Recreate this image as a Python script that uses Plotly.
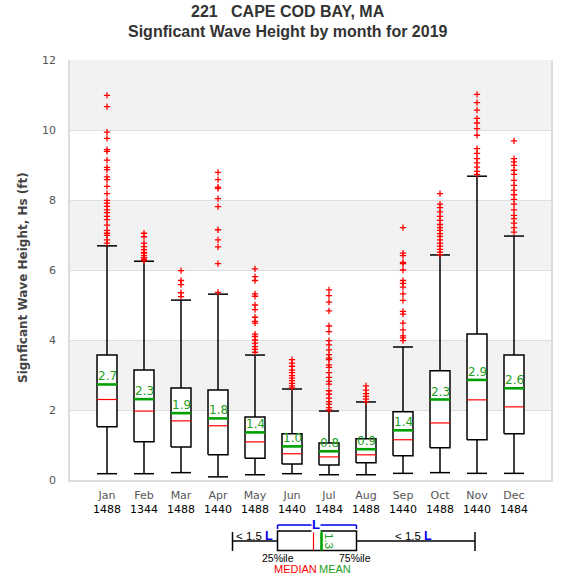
import plotly.graph_objects as go

# ---------------- data ----------------
months = ["Jan", "Feb", "Mar", "Apr", "May", "Jun", "Jul", "Aug", "Sep", "Oct", "Nov", "Dec"]
counts = [1488, 1344, 1488, 1440, 1488, 1440, 1484, 1488, 1440, 1488, 1440, 1484]
whisk_lo = [0.18, 0.18, 0.21, 0.09, 0.15, 0.18, 0.15, 0.15, 0.19, 0.21, 0.19, 0.19]
q1 = [1.52, 1.09, 0.94, 0.72, 0.62, 0.46, 0.43, 0.49, 0.69, 0.92, 1.15, 1.32]
median = [2.30, 1.97, 1.69, 1.55, 1.09, 0.75, 0.66, 0.72, 1.15, 1.63, 2.29, 2.09]
mean = [2.73, 2.31, 1.91, 1.76, 1.36, 0.96, 0.82, 0.88, 1.42, 2.30, 2.86, 2.62]
q3 = [3.57, 3.14, 2.63, 2.57, 1.80, 1.32, 1.06, 1.18, 1.95, 3.12, 4.17, 3.57]
whisk_hi = [6.69, 6.25, 5.14, 5.31, 3.57, 2.60, 1.97, 2.23, 3.80, 6.43, 8.68, 6.97]

out_jan = [10.99, 10.67, 9.94, 9.76, 9.44, 9.39, 9.14, 8.93, 8.87, 8.66, 8.58, 8.39, 8.18, 7.99,
           7.91, 7.82, 7.72, 7.64, 7.53, 7.44, 7.28, 7.13, 7.05, 6.99, 6.86, 6.77]
out_feb = [7.05, 6.95, 6.77, 6.67, 6.58, 6.50, 6.48, 6.41, 6.35, 6.30, 6.27]
out_mar = [5.98, 5.70, 5.58, 5.35, 5.24]
out_apr = [8.79, 8.58, 8.37, 8.33, 8.04, 7.81, 7.15, 6.86, 6.66, 6.18, 5.36]
out_may = [6.03, 5.81, 5.70, 5.32, 5.25, 5.00, 4.87, 4.65, 4.53, 4.48, 4.17, 4.10, 4.00,
           3.91, 3.81, 3.73, 3.65]
out_jun = [3.44, 3.34, 3.25, 3.14, 3.07, 2.98, 2.91, 2.84, 2.76, 2.69, 2.63]
out_jul = [5.43, 5.27, 5.08, 4.83, 4.40, 4.24, 3.98, 3.86, 3.72, 3.58, 3.48, 3.44, 3.29,
           3.22, 3.07, 2.93, 2.82, 2.74, 2.55, 2.45, 2.34, 2.24, 2.17, 2.07, 2.00]
out_aug = [2.69, 2.57, 2.47, 2.39, 2.31, 2.24]
out_sep = [7.21, 6.48, 6.41, 6.22, 6.18, 6.00, 5.70, 5.62, 5.51, 5.32, 5.13, 4.82, 4.74,
           4.48, 4.29, 4.12, 4.06, 3.98]
out_oct = [8.18, 7.88, 7.78, 7.66, 7.53, 7.42, 7.30, 7.21, 7.13, 7.04, 6.96, 6.86, 6.77,
           6.68, 6.59, 6.51, 6.44]
out_nov = [11.02, 10.78, 10.57, 10.33, 10.20, 10.04, 9.85, 9.47, 9.33, 9.18, 9.06, 8.94,
           8.82, 8.73]
out_dec = [9.69, 9.18, 9.09, 8.99, 8.85, 8.73, 8.56, 8.42, 8.28, 8.15, 8.02, 7.88, 7.72,
           7.56, 7.47, 7.34, 7.21, 7.08]
outliers = [out_jan, out_feb, out_mar, out_apr, out_may, out_jun, out_jul, out_aug,
            out_sep, out_oct, out_nov, out_dec]

y_ticks = [0, 2, 4, 6, 8, 10, 12]
shaded_bands = [(2, 4), (6, 8), (10, 12)]
legend_mean_label = "1.3"
title_line1 = "221\u00a0\u00a0\u00a0CAPE COD BAY, MA"
title_line2 = "Signficant Wave Height by month for 2019"
y_title = "Signficant Wave Height, Hs (ft)"

# ---------------- styling ----------------
HW = 0.27  # half box width (data units)
GREEN_LINE = "#00a000"
GREEN_TXT = "#22a022"
RED = "#ff0000"
BLUE = "#0000ee"
TICK_FONT = "DejaVu Sans"
ARIAL = "Liberation Sans, Arial"

xs = list(range(len(months)))

wx, wy = [], []
for i in xs:
    wx += [i, i, None, i, i, None, i - HW, i + HW, None, i - HW, i + HW, None]
    wy += [whisk_lo[i], q1[i], None, q3[i], whisk_hi[i], None,
           whisk_lo[i], whisk_lo[i], None, whisk_hi[i], whisk_hi[i], None]

bx, by = [], []
for i in xs:
    bx += [i - HW, i + HW, i + HW, i - HW, i - HW, None]
    by += [q1[i], q1[i], q3[i], q3[i], q1[i], None]

mx, my, ax_, ay_ = [], [], [], []
for i in xs:
    mx += [i - HW, i + HW, None]
    my += [median[i], median[i], None]
    ax_ += [i - HW, i + HW, None]
    ay_ += [mean[i], mean[i], None]

ox, oy = [], []
for i, lst in enumerate(outliers):
    ox += [i] * len(lst)
    oy += lst

fig = go.Figure()
fig.add_trace(go.Scatter(x=wx, y=wy, mode="lines", line=dict(color="black", width=1.5),
                         hoverinfo="skip", showlegend=False))
fig.add_trace(go.Scatter(x=bx, y=by, mode="lines", fill="toself", fillcolor="white",
                         line=dict(color="black", width=1.5), hoverinfo="skip", showlegend=False))
fig.add_trace(go.Scatter(x=mx, y=my, mode="lines", line=dict(color=RED, width=1.2),
                         hoverinfo="skip", showlegend=False))
fig.add_trace(go.Scatter(x=ax_, y=ay_, mode="lines", line=dict(color=GREEN_LINE, width=2.6),
                         hoverinfo="skip", showlegend=False))
fig.add_trace(go.Scatter(x=ox, y=oy, mode="markers",
                         marker=dict(symbol="cross-thin", size=4.5, color=RED,
                                     line=dict(color=RED, width=1.3)),
                         hoverinfo="skip", showlegend=False))

annotations = []
for i in xs:
    annotations.append(dict(x=i, y=mean[i], xref="x", yref="y", text=f"{mean[i]:.1f}",
                             showarrow=False, yanchor="bottom", yshift=-1,
                             font=dict(family=TICK_FONT, size=12, color=GREEN_TXT)))

shapes = []
for lo, hi in shaded_bands:
    shapes.append(dict(type="rect", xref="paper", yref="y", x0=0, x1=1, y0=lo, y1=hi,
                       fillcolor="#f2f2f2", line=dict(width=0), layer="below"))

# ---------------- legend schematic (pixel layout -> paper) ----------------
L_, R_, T_, B_ = 70, 551, 60, 480


def px(x):
    return (x - L_) / (R_ - L_)


def py(y):
    return (B_ - y) / (B_ - T_)


def seg(x0, y0, x1, y1, color="black", width=1.5):
    shapes.append(dict(type="line", xref="paper", yref="paper", x0=px(x0), y0=py(y0),
                       x1=px(x1), y1=py(y1), line=dict(color=color, width=width)))


seg(232.5, 532, 232.5, 551)
seg(232.5, 541, 277.5, 541)
shapes.append(dict(type="rect", xref="paper", yref="paper", x0=px(277.5), x1=px(356.5),
                   y0=py(550.5), y1=py(531), line=dict(color="black", width=1.5),
                   fillcolor="white"))
seg(313.5, 531, 313.5, 550.5, RED, 1.2)
seg(321.5, 531, 321.5, 550.5, GREEN_LINE, 2.6)
seg(356.5, 541, 475, 541)
seg(475, 532, 475, 551)
seg(277.5, 525, 356.5, 525, BLUE, 1.5)
seg(277.5, 525, 277.5, 529, BLUE, 1.5)
seg(356.5, 525, 356.5, 529, BLUE, 1.5)


def lab(x, y, text, color="black", size=10.5, angle=0, bg=None, family=ARIAL):
    d = dict(x=px(x), y=py(y), xref="paper", yref="paper", text=text, showarrow=False,
             xanchor="center", yanchor="middle", textangle=angle,
             font=dict(family=family, size=size, color=color))
    if bg:
        d["bgcolor"] = bg
        d["borderpad"] = 0
    annotations.append(d)


blueL = f"<span style='color:{BLUE};font-size:12.5px'><b>L</b></span>"
lab(316, 524, "<b>L</b>", BLUE, 13, bg="white")
lab(254, 536, "&lt; 1.5 " + blueL, size=11.5)
lab(413.5, 536, "&lt; 1.5 " + blueL, size=11.5)
lab(278, 558, "25%ile", size=10.5)
lab(355, 558, "75%ile", size=10.5)
lab(295, 569, "MEDIAN", RED, size=11)
lab(335, 569, "MEAN", GREEN_TXT, size=11)
lab(329, 541, legend_mean_label, GREEN_TXT, 11.5, angle=90)

lab(287.5, 12, f"<b>{title_line1}</b>", "#333333", 16)
lab(287.5, 31, f"<b>{title_line2}</b>", "#333333", 16)
lab(23, 278, f"<b>{y_title}</b>", "#444444", 12, angle=-90, family=TICK_FONT)

ticktext = [f"{m}<br><span style='color:black'>{c}</span>" for m, c in zip(months, counts)]

fig.update_layout(
    width=575, height=580,
    margin=dict(l=L_, r=575 - R_, t=T_, b=580 - B_, autoexpand=False),
    paper_bgcolor="white", plot_bgcolor="white",
    xaxis=dict(range=[-1, 12], tickvals=xs, ticktext=ticktext, showgrid=False,
               zeroline=False, showline=True, linecolor="#dcdcdc", linewidth=1.5,
               ticks="outside", ticklen=4, tickcolor="rgba(0,0,0,0)", automargin=False,
               tickfont=dict(family=TICK_FONT, size=11, color="#555555"), fixedrange=True),
    yaxis=dict(range=[0, 12], tickvals=y_ticks, showgrid=True, gridcolor="#dedede",
               gridwidth=1, zeroline=False, showline=True, mirror=True, linecolor="#dcdcdc",
               linewidth=1.5, ticks="outside", ticklen=10, tickcolor="rgba(0,0,0,0)",
               automargin=False,
               tickfont=dict(family=TICK_FONT, size=11, color="#555555"),
               fixedrange=True),
    shapes=shapes, annotations=annotations,
)

fig.write_html("out.html", config={"displayModeBar": False},
               post_script="document.body.style.margin='0';document.body.style.overflow='hidden';")
